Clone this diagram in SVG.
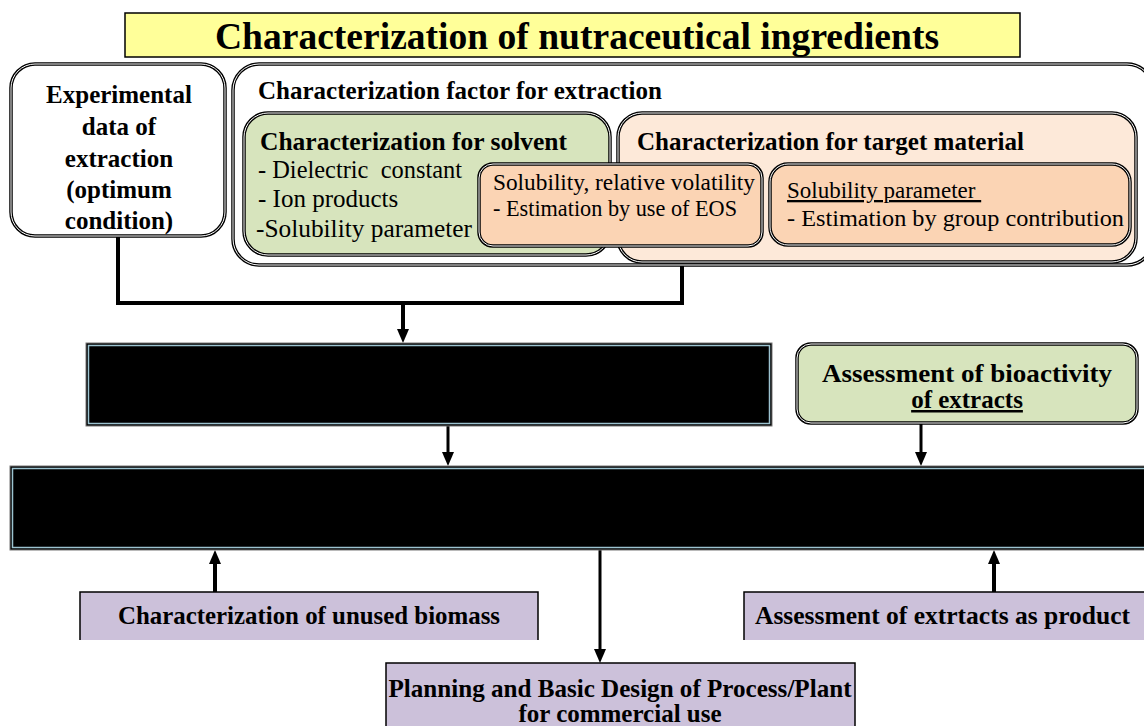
<svg xmlns="http://www.w3.org/2000/svg" width="1144" height="726" viewBox="0 0 1144 726">
<defs>
<style>
text{font-family:"Liberation Serif","Times New Roman",serif;fill:#000}
.b{font-weight:bold}
.t25{font-size:25px}
.t23{font-size:23px}
.rb{stroke:#000;stroke-width:3.5}
.ri{fill:none;stroke:#fff;stroke-width:1}
.blk{fill:#000;stroke:#777;stroke-width:1}
.blki{fill:none;stroke:#9CC3D0;stroke-width:1.5}
.pur{fill:#CCC1DA}
.edge{fill:none;stroke:#000;stroke-width:1.5}
.line{fill:none;stroke:#000;stroke-width:3}
.thick{fill:none;stroke:#000;stroke-width:4}
</style>
<marker id="ah" markerWidth="14" markerHeight="12" refX="4" refY="6" orient="auto" markerUnits="userSpaceOnUse">
<path d="M0,0 L14,6 L0,12 z" fill="#000"/>
</marker>
</defs>
<rect width="1144" height="726" fill="#fff"/>

<g id="title">
<rect x="125" y="13" width="895" height="44" fill="#FFFF99" stroke="#000" stroke-width="1.5"/>
<text x="577" y="49" class="b" font-size="37" text-anchor="middle" textLength="724" lengthAdjust="spacingAndGlyphs">Characterization of nutraceutical ingredients</text>
</g>

<g id="connectors">
<polyline class="thick" points="118,236 118,303 682,303 682,265"/>
<line class="thick" x1="403" y1="303" x2="403" y2="333" marker-end="url(#ah)"/>
<line class="line" x1="448" y1="426" x2="448" y2="456" marker-end="url(#ah)"/>
<line class="line" x1="921" y1="423" x2="921" y2="456" marker-end="url(#ah)"/>
<line class="thick" x1="215" y1="592" x2="215" y2="560" marker-end="url(#ah)"/>
<line class="line" x1="600" y1="550" x2="600" y2="653" marker-end="url(#ah)"/>
<line class="thick" x1="994" y1="592" x2="994" y2="560" marker-end="url(#ah)"/>
</g>

<g id="experimental">
<rect x="11" y="64" width="214" height="172" rx="24" fill="#fff" class="rb"/>
<rect x="11" y="64" width="214" height="172" rx="24" class="ri"/>
<text class="b t25" text-anchor="middle"><tspan x="119" y="103">Experimental</tspan><tspan x="119" y="135">data of</tspan><tspan x="119" y="167">extraction</tspan><tspan x="119" y="198">(optimum</tspan><tspan x="119" y="229">condition)</tspan></text>
</g>

<g id="factor">
<rect x="233" y="64" width="920" height="201" rx="26" fill="#fff" class="rb"/>
<rect x="233" y="64" width="920" height="201" rx="26" class="ri"/>
<text x="258" y="99" class="b t25" textLength="404" lengthAdjust="spacingAndGlyphs">Characterization factor for extraction</text>
</g>

<g id="target">
<rect x="618" y="113" width="518" height="149" rx="24" fill="#FDE9D9" class="rb"/>
<rect x="618" y="113" width="518" height="149" rx="24" class="ri"/>
<text x="637" y="150" class="b t25" textLength="387" lengthAdjust="spacingAndGlyphs">Characterization for target material</text>
</g>

<g id="solvent">
<rect x="244" y="113" width="366" height="142" rx="24" fill="#D7E4BD" class="rb"/>
<rect x="244" y="113" width="366" height="142" rx="24" class="ri"/>
<text x="260" y="150" class="b t25" textLength="307" lengthAdjust="spacingAndGlyphs">Characterization for solvent</text>
<text x="258" y="178" class="t25" textLength="204" lengthAdjust="spacingAndGlyphs" xml:space="preserve">- Dielectric  constant</text>
<text x="258" y="207" class="t25">- Ion products</text>
<text x="256" y="237" class="t25" textLength="216" lengthAdjust="spacingAndGlyphs">-Solubility parameter</text>
</g>

<g id="eos">
<rect x="479" y="164" width="283" height="82" rx="14" fill="#FBD4B4" class="rb"/>
<rect x="479" y="164" width="283" height="82" rx="14" class="ri"/>
<text x="493" y="190" class="t23" textLength="262" lengthAdjust="spacingAndGlyphs">Solubility, relative volatility</text>
<text x="493" y="216" class="t23" textLength="244" lengthAdjust="spacingAndGlyphs">- Estimation by use of EOS</text>
</g>

<g id="solparam">
<rect x="770" y="164" width="360" height="81" rx="18" fill="#FBD4B4" class="rb"/>
<rect x="770" y="164" width="360" height="81" rx="18" class="ri"/>
<text x="787" y="198" class="t23" text-decoration="underline" xml:space="preserve">Solubility parameter </text>
<text x="787" y="226" class="t23" textLength="337" lengthAdjust="spacingAndGlyphs">- Estimation by group contribution</text>
</g>

<g id="black1">
<rect x="86" y="343" width="686" height="83" class="blk"/>
<rect x="88.5" y="345.5" width="681" height="78" class="blki"/>
</g>

<g id="bioactivity">
<rect x="797" y="344" width="340" height="79" rx="14" fill="#D7E4BD" class="rb"/>
<rect x="797" y="344" width="340" height="79" rx="14" class="ri"/>
<text x="967" y="382" class="b t25" text-anchor="middle" textLength="290" lengthAdjust="spacingAndGlyphs">Assessment of bioactivity</text>
<text x="967" y="408" class="b t25" text-anchor="middle" text-decoration="underline">of extracts</text>
</g>

<g id="black2">
<rect x="10" y="466" width="1140" height="84" class="blk"/>
<rect x="12.5" y="468.5" width="1140" height="79" class="blki"/>
</g>

<g id="biomass">
<rect x="80" y="592" width="458" height="48" class="pur"/>
<path d="M80,640 V592 H538 V640" class="edge"/>
<text x="309" y="624" class="b t25" text-anchor="middle" textLength="382" lengthAdjust="spacingAndGlyphs">Characterization of unused biomass</text>
</g>

<g id="product">
<rect x="744" y="592" width="410" height="48" class="pur"/>
<path d="M744,640 V592 H1150" class="edge"/>
<text x="755" y="624" class="b t25" textLength="375" lengthAdjust="spacingAndGlyphs">Assessment of extrtacts as product</text>
</g>

<g id="planning">
<rect x="386" y="663" width="469" height="70" class="pur"/>
<path d="M386,730 V663 H855 V730" class="edge"/>
<text x="620" y="697" class="b t25" text-anchor="middle" textLength="463" lengthAdjust="spacingAndGlyphs">Planning and Basic Design of Process/Plant</text>
<text x="620" y="722" class="b t25" text-anchor="middle">for commercial use</text>
</g>
</svg>
